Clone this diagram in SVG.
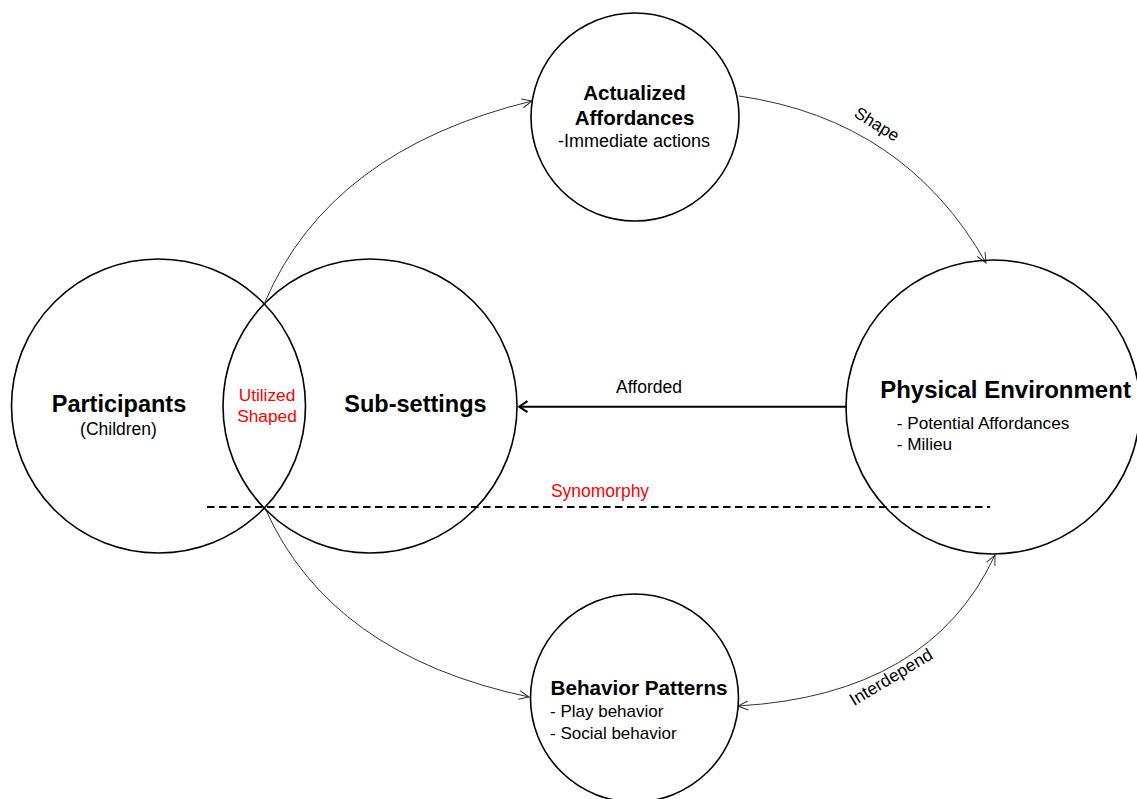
<svg xmlns="http://www.w3.org/2000/svg" width="1137" height="799" viewBox="0 0 1137 799">
<style>
  .node { fill: none; stroke: #000; stroke-width: 1.6; }
  .t { font-family: "Liberation Sans", Arial, Helvetica, sans-serif; fill: #000; }
  .b { font-weight: bold; }
  .red { fill: #ff0000; }
  .arc { fill: none; stroke: #333; stroke-width: 1; }
  .dash { fill: none; stroke: #000; stroke-width: 2; stroke-dasharray: 7.5 4.5; }
</style>
<defs>
  <marker id="open" markerUnits="userSpaceOnUse" markerWidth="12" markerHeight="12" viewBox="0 0 12 12" refX="11" refY="6" orient="auto-start-reverse">
    <path d="M1,1.5 L11,6 L1,10.5" fill="none" stroke="#333" stroke-width="1"/>
  </marker>
  <marker id="bold" markerUnits="userSpaceOnUse" markerWidth="12" markerHeight="14" viewBox="0 0 12 14" refX="10.5" refY="7" orient="auto">
    <path d="M2,1.5 L10.5,7 L2,12.5" fill="none" stroke="#000" stroke-width="2"/>
  </marker>
</defs>
<rect width="1137" height="799" fill="#fff"/>

<g id="connectors">
  <path class="arc" d="M265,302 Q330,150 532,101" marker-end="url(#open)"/>
  <path class="arc" d="M265,508 Q330,655 529,697" marker-end="url(#open)"/>
  <path class="arc" d="M739,96 Q905,120 986,263" marker-end="url(#open)"/>
  <path class="arc" d="M995,555 Q930,695 738,706" marker-start="url(#open)" marker-end="url(#open)"/>
  <line x1="847" y1="406.7" x2="519" y2="406.7" stroke="#000" stroke-width="2" marker-end="url(#bold)"/>
  <line class="dash" x1="207" y1="507" x2="990" y2="507"/>
  <text class="t" x="649" y="393" font-size="17.5" text-anchor="middle">Afforded</text>
  <text class="t red" x="600" y="497" font-size="17.5" text-anchor="middle">Synomorphy</text>
  <text class="t" transform="translate(877,124) rotate(32)" y="6" font-size="17" text-anchor="middle">Shape</text>
  <text class="t" transform="translate(891,677) rotate(-31)" y="6" font-size="17.5" text-anchor="middle">Interdepend</text>
</g>

<g id="participants">
  <circle class="node" cx="158.5" cy="406" r="147"/>
  <text class="t b" x="119" y="412" font-size="23.5" text-anchor="middle">Participants</text>
  <text class="t" x="118.5" y="435" font-size="17.5" text-anchor="middle">(Children)</text>
</g>

<g id="sub-settings">
  <circle class="node" cx="370" cy="406" r="147"/>
  <text class="t b" x="415.5" y="412" font-size="23.5" text-anchor="middle">Sub-settings</text>
</g>

<g id="overlap">
  <text class="t red" x="267" y="401" font-size="17.3" text-anchor="middle">Utilized</text>
  <text class="t red" x="267" y="422" font-size="17.3" text-anchor="middle">Shaped</text>
</g>

<g id="actualized-affordances">
  <circle class="node" cx="635" cy="117" r="104"/>
  <text class="t b" x="634.5" y="99.5" font-size="20.5" text-anchor="middle">Actualized</text>
  <text class="t b" x="634.5" y="124.5" font-size="20.5" text-anchor="middle">Affordances</text>
  <text class="t" x="634" y="147" font-size="18" text-anchor="middle">-Immediate actions</text>
</g>

<g id="physical-environment">
  <circle class="node" cx="993" cy="407" r="147"/>
  <text class="t b" x="1005.5" y="397.5" font-size="24" text-anchor="middle">Physical Environment</text>
  <text class="t" x="896.7" y="428.5" font-size="17.2">- Potential Affordances</text>
  <text class="t" x="896.7" y="450" font-size="17.2">- Milieu</text>
</g>

<g id="behavior-patterns">
  <circle class="node" cx="634.5" cy="698" r="104"/>
  <text class="t b" x="639" y="694.5" font-size="20.7" text-anchor="middle">Behavior Patterns</text>
  <text class="t" x="550" y="717" font-size="17">- Play behavior</text>
  <text class="t" x="550" y="738.5" font-size="17">- Social behavior</text>
</g>
</svg>
